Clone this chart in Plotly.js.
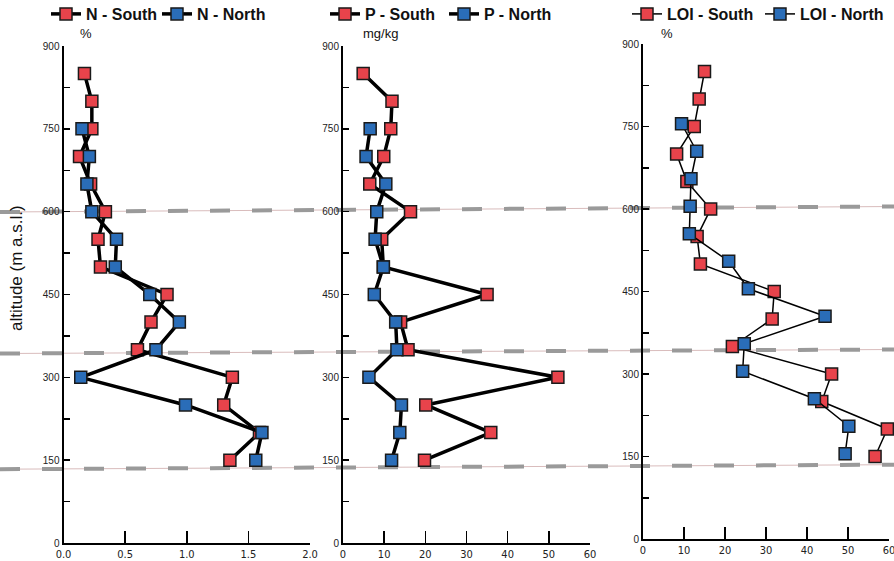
<!DOCTYPE html>
<html>
<head>
<meta charset="utf-8">
<script src="https://cdn.plot.ly/plotly-3.0.1.min.js"></script>
<style>html,body{margin:0;padding:0;background:#fff;}#chart{width:894px;height:561px;}</style>
</head>
<body>
<div id="chart"></div>
<script>
// ---- data ----
var altSouth = [850, 800, 750, 700, 650, 600, 550, 500, 450, 400, 350, 300, 250, 200, 150];
var altNorth = [750, 700, 650, 600, 550, 500, 450, 400, 350, 300, 250, 200, 150];
var altNorthLOI = [755, 705, 655, 605, 555, 505, 455, 405, 355, 305, 255, 205, 155];

var nSouth = [0.17, 0.23, 0.23, 0.13, 0.22, 0.34, 0.28, 0.30, 0.84, 0.71, 0.60, 1.37, 1.30, 1.59, 1.35];
var nNorth = [0.15, 0.21, 0.19, 0.23, 0.43, 0.42, 0.70, 0.94, 0.75, 0.14, 0.99, 1.61, 1.56];

var pSouth = [4.9, 11.9, 11.6, 9.9, 6.5, 16.4, 9.4, 9.8, 35.0, 14.0, 15.8, 52.2, 20.1, 35.9, 19.8];
var pNorth = [6.6, 5.6, 10.4, 8.2, 7.8, 9.8, 7.6, 12.8, 13.1, 6.3, 14.2, 13.8, 11.8];

var loiSouth = [15.0, 13.7, 12.5, 8.2, 10.7, 16.5, 13.2, 14.0, 32.0, 31.5, 21.8, 46.0, 43.6, 59.6, 56.6];
var loiNorth = [9.4, 13.1, 11.7, 11.5, 11.3, 20.9, 25.7, 44.4, 24.7, 24.3, 41.8, 50.2, 49.3];

var seriesNames = ['N - South', 'N - North', 'P - South', 'P - North', 'LOI - South', 'LOI - North'];
var unitLabels = ['%', 'mg/kg', '%'];
var yTickVals = [0, 75, 150, 225, 300, 375, 450, 525, 600, 675, 750, 825, 900];
var yTickText = ['0', '', '150', '', '300', '', '450', '', '600', '', '750', '', '900'];
var xTick1 = [0, 0.5, 1.0, 1.5, 2.0];
var xTick23 = [0, 10, 20, 30, 40, 50, 60];

// ---- styles ----
var RED = '#e8434b', BLUE = '#2a6db8';
var W = 894, H = 561;
function px(x) { return x / W; }
function py(y) { return 1 - y / H; }

function tr(x, y, name, color, xa, ya, leg, lw) {
  return {
    x: x, y: y, name: name, type: 'scatter', mode: 'lines+markers',
    xaxis: xa, yaxis: ya, legend: leg,
    line: {color: '#000', width: lw},
    marker: {symbol: 'square', size: 12, color: color, line: {color: '#1a1a1a', width: 1.5}},
    cliponaxis: false
  };
}

var data = [
  tr(nSouth, altSouth, seriesNames[0], RED, 'x', 'y', 'legend', 3.5),
  tr(nNorth, altNorth, seriesNames[1], BLUE, 'x', 'y', 'legend', 3.5),
  tr(pSouth, altSouth, seriesNames[2], RED, 'x2', 'y2', 'legend2', 3.5),
  tr(pNorth, altNorth, seriesNames[3], BLUE, 'x2', 'y2', 'legend2', 3.5),
  tr(loiSouth, altSouth, seriesNames[4], RED, 'x3', 'y3', 'legend3', 1.5),
  tr(loiNorth, altNorthLOI, seriesNames[5], BLUE, 'x3', 'y3', 'legend3', 1.5)
];

var tickFontY = {family: 'Liberation Sans, Arial, sans-serif', size: 10, color: '#222'};
var tickFontX = {family: 'DejaVu Sans Condensed, Liberation Sans Narrow, Liberation Sans, sans-serif', size: 11, color: '#222'};

function xax(dom, range, vals, fmt, anchor) {
  return {
    domain: dom, range: range, anchor: anchor, tickvals: vals, tickformat: fmt,
    ticks: 'inside', ticklen: 12, tickwidth: 1.5, tickcolor: '#000',
    showline: true, linecolor: '#000', linewidth: 2, showgrid: false, zeroline: false,
    tickfont: tickFontX, fixedrange: true, automargin: false, ticklabeloverflow: 'allow'
  };
}
function yax(dom, anchor) {
  return {
    domain: dom, range: [0, 900], anchor: anchor, tickvals: yTickVals, ticktext: yTickText,
    ticks: 'inside', ticklen: 6, tickwidth: 1.5, tickcolor: '#000',
    showline: true, linecolor: '#000', linewidth: 2, showgrid: false, zeroline: false,
    tickfont: tickFontY, fixedrange: true, automargin: false
  };
}

var legFont = {family: 'Liberation Sans, Arial, sans-serif', size: 16, color: '#111', weight: 'bold'};
function leg(x, ew) {
  return {x: x, y: py(-3), xanchor: 'left', yanchor: 'top', orientation: 'h',
    font: legFont, bgcolor: 'rgba(0,0,0,0)', itemwidth: 30, tracegroupgap: 0,
    entrywidthmode: 'pixels', entrywidth: ew};
}

function dashed(yl, yr) {
  return [
    {type: 'line', xref: 'paper', yref: 'paper', x0: 0, x1: 1, y0: py(yl), y1: py(yr),
     line: {color: '#d9bcbc', width: 1}, layer: 'below'},
    {type: 'line', xref: 'paper', yref: 'paper', x0: 0, x1: 1, y0: py(yl), y1: py(yr),
     line: {color: '#9a9a9a', width: 4, dash: '20px,22px'}, layer: 'below'}
  ];
}

function unitAnn(text, x) {
  return {text: text, xref: 'paper', yref: 'paper', x: px(x), y: py(33), showarrow: false,
    xanchor: 'center', yanchor: 'middle',
    font: {family: 'Liberation Sans, Arial, sans-serif', size: 13, color: '#111'}};
}

var layout = {
  width: W, height: H,
  margin: {l: 0, r: 0, t: 0, b: 0, pad: 0, autoexpand: false},
  paper_bgcolor: '#fff', plot_bgcolor: 'rgba(0,0,0,0)',
  showlegend: true,
  xaxis: xax([px(63.5), px(310)], [0, 2], xTick1, '.1f', 'y'),
  yaxis: yax([py(543), py(46)], 'x'),
  xaxis2: xax([px(343), px(590)], [0, 60], xTick23, 'd', 'y2'),
  yaxis2: yax([py(543), py(46)], 'x2'),
  xaxis3: xax([px(643), px(889)], [0, 60], xTick23, 'd', 'y3'),
  yaxis3: yax([py(539), py(44)], 'x3'),
  legend: leg(px(46), 66),
  legend2: leg(px(325), 74),
  legend3: leg(px(627), 88),
  shapes: [].concat(dashed(212, 206.5), dashed(353.5, 349.5), dashed(469.2, 464.7)),
  annotations: [
    {text: 'altitude (m a.s.l.)', xref: 'paper', yref: 'paper', x: px(16), y: py(268),
     textangle: -90, showarrow: false, xanchor: 'center', yanchor: 'middle',
     font: {family: 'Liberation Sans, Arial, sans-serif', size: 17, color: '#111'}},
    unitAnn(unitLabels[0], 86),
    unitAnn(unitLabels[1], 380),
    unitAnn(unitLabels[2], 667)
  ]
};

Plotly.newPlot('chart', data, layout, {displayModeBar: false, staticPlot: true});
</script>
</body>
</html>
